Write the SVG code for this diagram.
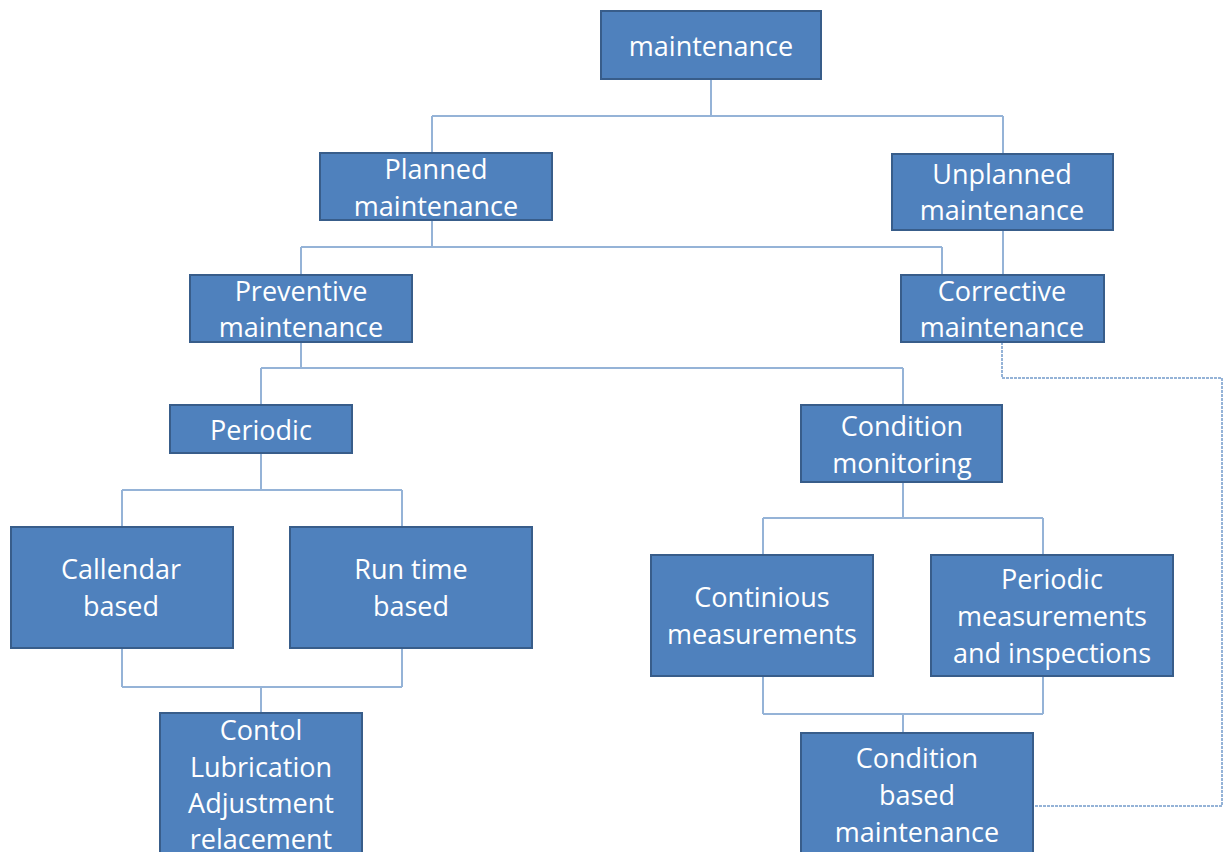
<svg xmlns="http://www.w3.org/2000/svg" width="1225" height="852" viewBox="0 0 1225 852">
<style>
.box{fill:#4F81BD;stroke:#385D8A;stroke-width:2}
.t{fill:#FFFFFF;font-family:"Open Sans","Liberation Sans",sans-serif;font-size:27px;text-anchor:middle}
.c{fill:none;stroke:#95B3D7;stroke-width:2}
.d{fill:none;stroke:#95B3D7;stroke-width:2;stroke-dasharray:3 1}
</style>
<rect width="1225" height="852" fill="#FFFFFF"/>
<g id="connectors">
<path class="c" d="M711 79V116M432 116H1003M432 116V153M1003 116V154"/>
<path class="c" d="M432 220V247M301 247H942M301 247V275M942 247V275"/>
<path class="c" d="M1003 230V275"/>
<path class="c" d="M301 342V368M261 368H903M261 368V405M903 368V405"/>
<path class="c" d="M261 453V490M122 490H402M122 490V527M402 490V527"/>
<path class="c" d="M122 648V687M402 648V687M122 687H402M261 687V713"/>
<path class="c" d="M903 482V518M763 518H1043M763 518V555M1043 518V555"/>
<path class="c" d="M763 676V714M1043 676V714M763 714H1043M903 714V733"/>
<path class="d" d="M1002 342V378H1222V806H1033"/>
</g>
<g id="n-maintenance"><rect class="box" x="601" y="11" width="220" height="68"/><text class="t" x="711" y="56">maintenance</text></g>
<g id="n-planned"><rect class="box" x="320" y="153" width="232" height="67"/><text class="t" x="436" y="179">Planned</text><text class="t" x="436" y="216">maintenance</text></g>
<g id="n-unplanned"><rect class="box" x="892" y="154" width="221" height="76"/><text class="t" x="1002" y="184">Unplanned</text><text class="t" x="1002" y="220">maintenance</text></g>
<g id="n-preventive"><rect class="box" x="190" y="275" width="222" height="67"/><text class="t" x="301" y="301">Preventive</text><text class="t" x="301" y="337">maintenance</text></g>
<g id="n-corrective"><rect class="box" x="901" y="275" width="203" height="67"/><text class="t" x="1002" y="301">Corrective</text><text class="t" x="1002" y="337">maintenance</text></g>
<g id="n-periodic"><rect class="box" x="170" y="405" width="182" height="48"/><text class="t" x="261" y="440">Periodic</text></g>
<g id="n-condition-monitoring"><rect class="box" x="801" y="405" width="201" height="77"/><text class="t" x="902" y="436">Condition</text><text class="t" x="902" y="473">monitoring</text></g>
<g id="n-callendar"><rect class="box" x="11" y="527" width="222" height="121"/><text class="t" x="121" y="579">Callendar</text><text class="t" x="121" y="616">based</text></g>
<g id="n-runtime"><rect class="box" x="290" y="527" width="242" height="121"/><text class="t" x="411" y="579">Run time</text><text class="t" x="411" y="616">based</text></g>
<g id="n-continious"><rect class="box" x="651" y="555" width="222" height="121"/><text class="t" x="762" y="607">Continious</text><text class="t" x="762" y="644">measurements</text></g>
<g id="n-periodic-meas"><rect class="box" x="931" y="555" width="242" height="121"/><text class="t" x="1052" y="589">Periodic</text><text class="t" x="1052" y="626">measurements</text><text class="t" x="1052" y="663">and inspections</text></g>
<g id="n-contol"><rect class="box" x="160" y="713" width="202" height="150"/><text class="t" x="261" y="740">Contol</text><text class="t" x="261" y="777">Lubrication</text><text class="t" x="261" y="813">Adjustment</text><text class="t" x="261" y="849">relacement</text></g>
<g id="n-condition-based"><rect class="box" x="801" y="733" width="232" height="130"/><text class="t" x="917" y="768">Condition</text><text class="t" x="917" y="805">based</text><text class="t" x="917" y="842">maintenance</text></g>
</svg>
